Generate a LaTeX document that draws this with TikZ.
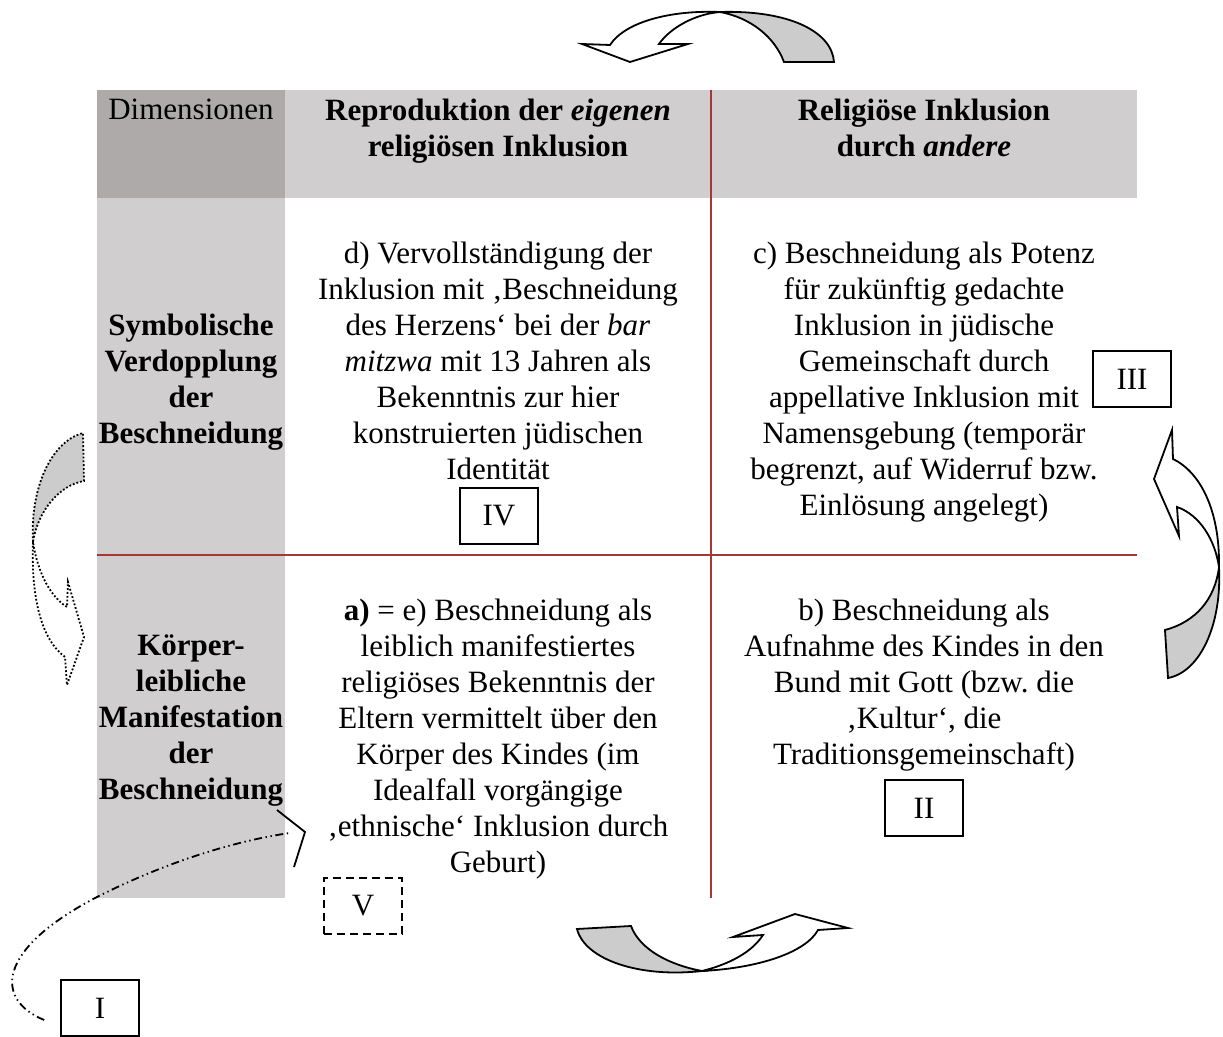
\documentclass[tikz,border=0pt]{standalone}
\usepackage{fontspec}
\setmainfont{Liberation Serif}
\usetikzlibrary{calc}
\frenchspacing

\definecolor{hdrdark}{RGB}{174,170,170}
\definecolor{hdrlight}{RGB}{208,206,206}
\definecolor{gridred}{RGB}{165,55,55}
\definecolor{arrowgray}{RGB}{204,204,204}

\begin{document}
\begin{tikzpicture}[x=0.5pt,y=-0.5pt,
    txt/.style={font=\fontsize{15.5}{18}\selectfont, align=center, inner sep=0pt, anchor=north},
    hdr/.style={txt, font=\fontsize{15.5}{18}\selectfont\bfseries},
    numbox/.style={draw, line width=0.8pt, minimum width=39pt, minimum height=28pt, inner sep=0pt, font=\fontsize{15.5}{18}\selectfont},
    bentarrow/.style={draw, line width=0.9pt, line join=miter},
    gridline/.style={gridred, line width=0.7pt}]
    \useasboundingbox (0,0) rectangle (1223,1037);

    % Shaded header and first column
    \fill[hdrlight] (285,90) rectangle (1137,198);
    \fill[hdrdark] (97,90) rectangle (285,198);
    \fill[hdrlight] (97,198) rectangle (285,898);

    % Separators
    \draw[gridline] (711,90) -- (711,898);
    \draw[gridline] (97,555) -- (1137,555);

    % Header
    \node[txt] (dim) at (191,99) {Dimensionen};
    \node[hdr] (own) at (498,99) {Reproduktion der \textit{eigenen}\\religiösen Inklusion};
    \node[hdr] (other) at (924,99) {Religiöse Inklusion\\durch \textit{andere}};

    % Row titles
    \node[hdr] (symb) at (191,314) {Symbolische\\Verdopplung\\der\\Beschneidung};
    \node[hdr] (body) at (191,634) {Körper-\\leibliche\\Manifestation\\der\\Beschneidung};

    % Cells
    \node[txt] (celld) at (498,242) {d) Vervollständigung der\\Inklusion mit ‚Beschneidung\\des Herzens‘ bei der \textit{bar}\\\textit{mitzwa} mit 13 Jahren als\\Bekenntnis zur hier\\konstruierten jüdischen\\Identität};
    \node[txt] (cellc) at (924,242) {c) Beschneidung als Potenz\\für zukünftig gedachte\\Inklusion in jüdische\\Gemeinschaft durch\\appellative Inklusion mit\\Namensgebung (temporär\\begrenzt, auf Widerruf bzw.\\Einlösung angelegt)};
    \node[txt] (cella) at (498,599) {\textbf{a)} = e) Beschneidung als\\leiblich manifestiertes\\religiöses Bekenntnis der\\Eltern vermittelt über den\\Körper des Kindes (im\\Idealfall vorgängige\\‚ethnische‘ Inklusion durch\\Geburt)};
    \node[txt] (cellb) at (924,599) {b) Beschneidung als\\Aufnahme des Kindes in den\\Bund mit Gott (bzw. die\\‚Kultur‘, die\\Traditionsgemeinschaft)};

    % Numbered boxes
    \node[numbox] (I) at (100,1008) {I};
    \node[numbox] (II) at (924,808) {II};
    \node[numbox] (III) at (1132,379) {III};
    \node[numbox] (IV) at (499,516) {IV};
    \node[numbox, dash pattern=on 4pt off 2.5pt] (V) at (363,906) {V};

    % Top arrow
    \filldraw[bentarrow, fill=arrowgray] (784,62) .. controls (775,38) and (752,18) .. (720,12)
        .. controls (790,10) and (832,32) .. (834,62) -- cycle;
    \filldraw[bentarrow, fill=white] (720,12) .. controls (670,10) and (625,22) .. (610,45)
        -- (582,44) -- (630,62) -- (688,44) -- (659,44)
        .. controls (670,28) and (695,14) .. (720,12) -- cycle;

    % Right arrow
    \filldraw[bentarrow, fill=arrowgray] (1219,567) .. controls (1222,625) and (1200,672) .. (1168,678)
        -- (1165,630) .. controls (1195,622) and (1215,600) .. (1219,567) -- cycle;
    \filldraw[bentarrow, fill=white] (1219,567) .. controls (1220,510) and (1200,472) .. (1173,459)
        -- (1172,430) -- (1154,479) -- (1179,536) -- (1177,507)
        .. controls (1200,515) and (1215,540) .. (1219,567) -- cycle;

    % Bottom arrow
    \filldraw[bentarrow, fill=arrowgray] (702,971) .. controls (640,978) and (585,960) .. (577,929)
        -- (631,926) .. controls (640,950) and (670,965) .. (702,971) -- cycle;
    \filldraw[bentarrow, fill=white] (702,971) .. controls (760,968) and (806,952) .. (818,930)
        -- (848,928) -- (795,914) -- (733,937) -- (763,935)
        .. controls (752,952) and (730,964) .. (702,971) -- cycle;

    % Left arrow (dotted)
    \filldraw[bentarrow, densely dotted, fill=arrowgray] (33,542) .. controls (30,490) and (50,442) .. (83,433)
        -- (84,481) .. controls (60,485) and (38,510) .. (33,542) -- cycle;
    \draw[bentarrow, densely dotted] (33,542) .. controls (31,600) and (42,640) .. (65,657)
        -- (67,685) -- (84,637) -- (68,582) -- (67,607)
        .. controls (52,598) and (38,575) .. (33,542);

    % Link from I
    \coordinate (chev) at (290,833);
    \draw[line width=0.9pt, dash pattern=on 4pt off 1.8pt on 0.7pt off 1.8pt on 0.7pt off 1.8pt]
        ([xshift=-8pt,yshift=-6pt]I.west) .. controls (-5,1000) and (-5,950) .. (97,897)
        .. controls (170,860) and (240,840) .. (chev);
    \draw[line width=0.9pt] (277,810) -- (305,832) -- (294,867);
\end{tikzpicture}
\end{document}
